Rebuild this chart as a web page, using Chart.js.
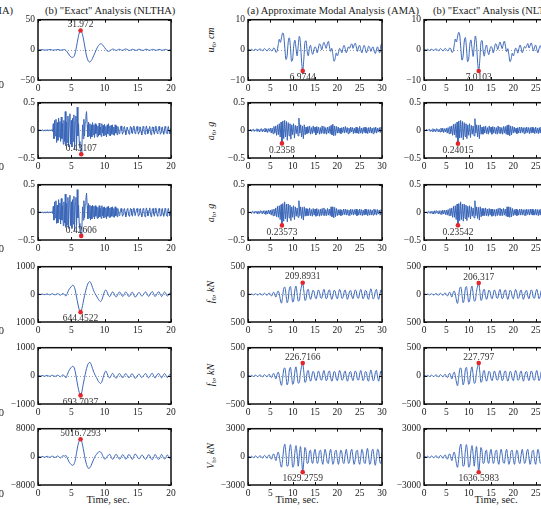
<!DOCTYPE html>
<html>
<head>
<meta charset="utf-8">
<script src="https://cdn.jsdelivr.net/npm/chart.js@4/dist/chart.umd.min.js"></script>
<style>
body { margin:0; width:541px; height:509px; overflow:hidden; background:#fff; position:relative;
       font-family:"Liberation Serif", serif; color:#222; }
canvas { position:absolute; }
.t { position:absolute; white-space:nowrap; font-size:10.5px; line-height:12px; }
.c { transform:translateX(-50%); }
.yl { position:absolute; white-space:nowrap; font-size:10px; line-height:12px;
      transform:translate(-50%,-50%) rotate(-90deg); }
.yl sub { font-size:7px; vertical-align:-2px; }
</style>
</head>
<body>
<div class="t" style="right:528px; top:5px">(a) Approximate Modal Analysis (AMA)</div>
<div class="t" style="left:45px; top:5px">(b) "Exact" Analysis (NLTHA)</div>
<div class="t" style="left:247px; top:5px">(a) Approximate Modal Analysis (AMA)</div>
<div class="t" style="left:433px; top:5px">(b) "Exact" Analysis (NLTHA)</div>

<div class="yl" style="left:212px; top:40px"><i>u</i><sub>6</sub>, <i>cm</i></div>
<div class="yl" style="left:212px; top:131px"><i>a</i><sub>6</sub>, <i>g</i></div>
<div class="yl" style="left:212px; top:213px"><i>a</i><sub>b</sub>, <i>g</i></div>
<div class="yl" style="left:212px; top:292px"><i>f</i><sub>6</sub>, <i>kN</i></div>
<div class="yl" style="left:212px; top:375px"><i>f</i><sub>b</sub>, <i>kN</i></div>
<div class="yl" style="left:212px; top:456px"><i>V</i><sub>b</sub>, <i>kN</i></div>

<div class="t c" style="left:108px; top:494px">Time, sec.</div>
<div class="t c" style="left:297px; top:494px">Time, sec.</div>
<div class="t c" style="left:496px; top:494px">Time, sec.</div>

<script>
// ---- data: left block (NLTHA, 0-20 s), middle (AMA, 0-30 s), right (NLTHA, 0-30 s)
const dtLeft = 0.2;
const dtLeftAcc = 0.1;
const dtWide = 0.25;
const dtWideAcc = 0.2;

const nl20Disp = [
  0, 0, 0.2, 0.3, 0.1, -0.2, -0.3, 0, 0.3, 0.5,
  0.2, -0.3, -0.4, 0, 0.4, 0.5, 0, -0.5, -0.3, 0.3,
  0.5, -1, -3.5, -7, -10, -12, -12.5, -11, -5, 6,
  18, 28, 31.972, 29, 20, 8, -5, -14, -19, -20,
  -18, -14, -9, -4, 1, 5.5, 8.5, 10, 9.5, 7,
  4, 1, -1.5, -2.5, -1.5, 0, 1.2, 1, -0.5, -1,
  0.2, 1, 0.5, -0.8, -0.5, 0.8, 1.5, 0.8, -0.5, -1,
  0, 1, 0.5, -0.5, -0.8, 0.3, 1, 0.5, -0.5, -1,
  0, 1, 0.8, -0.3, -0.8, 0, 0.8, 0.5, -0.5, -0.7,
  0.2, 0.9, 0.3, -0.6, -0.5, 0.4, 0.8, 0, -0.7, -0.2,
  0.5
];

const nl20Acc6 = [
  0, 0, 0.005, -0.005, 0.01, -0.005, 0, 0.01, -0.01, 0.005,
  0, -0.005, 0.01, -0.01, 0.005, 0.01, -0.01, 0, 0.01, -0.01,
  0.005, 0.01, -0.02, 0.12, -0.15, 0.18, -0.1, 0.2, -0.22, 0.14,
  -0.18, 0.22, -0.12, 0.16, -0.2, 0.24, -0.15, 0.12, -0.25, 0.18,
  -0.2, 0.34, -0.28, 0.15, -0.22, 0.26, -0.3, 0.2, 0.3, -0.25,
  0.18, -0.3, 0.22, -0.2, 0.28, -0.35, 0.15, 0.26, -0.25, 0.42,
  -0.1, 0.12, -0.2, -0.3, -0.38, -0.43107, -0.3, 0.1, -0.15, 0.2,
  -0.1, 0.15, 0.25, 0.34, 0.1, -0.12, 0.15, -0.1, 0.12, -0.15,
  0.1, -0.12, 0.14, -0.08, 0.1, -0.13, 0.12, -0.06, 0.1, -0.12,
  0.08, -0.1, 0.13, -0.08, 0.06, -0.11, 0.12, -0.05, 0.09, -0.1,
  0.11, -0.08, 0.07, -0.12, 0.1, -0.06, 0.12, -0.09, 0.08, -0.1,
  0.09, -0.07, 0.1, -0.08, 0.06, -0.09, 0.1, -0.05, 0.08, -0.08,
  0.07, 0.03, -0.06, -0.05, 0.04, 0.08, 0.0, -0.07, -0.03, 0.05,
  0.07, -0.01, -0.08, -0.02, 0.06, 0.06, -0.03, -0.07, 0.0, 0.07,
  0.05, -0.04, -0.06, 0.02, 0.08, 0.03, -0.06, -0.05, 0.04, 0.07,
  0.0, -0.07, -0.03, 0.06, 0.06, -0.02, -0.08, -0.01, 0.07, 0.05,
  -0.04, -0.07, 0.02, 0.08, 0.02, -0.06, -0.05, 0.04, 0.07, -0.01,
  -0.08, -0.02, 0.06, 0.06, -0.03, -0.07, 0.0, 0.08, 0.04, -0.05,
  -0.06, 0.03, 0.07, 0.01, -0.07, -0.04, 0.05, 0.06, -0.02, -0.07,
  -0.01, 0.07, 0.04, -0.05, -0.06, 0.03, 0.07, 0.0, -0.06, -0.03,
  0.04
];

const nl20AccB = [
  0, 0, 0.005, -0.005, 0.01, 0, -0.005, 0.01, -0.01, 0.005,
  0, -0.005, 0.01, -0.01, 0.005, 0.01, -0.01, 0, 0.01, -0.01,
  0.005, 0.01, -0.02, 0.11, -0.14, 0.19, -0.1, 0.21, -0.2, 0.13,
  -0.19, 0.23, -0.12, 0.17, -0.21, 0.25, -0.14, 0.12, -0.24, 0.19,
  -0.19, 0.33, -0.27, 0.16, -0.23, 0.27, -0.29, 0.2, 0.31, -0.24,
  0.19, -0.29, 0.23, -0.21, 0.29, -0.34, 0.16, 0.27, -0.24, 0.41,
  -0.1, 0.13, -0.2, -0.3, -0.37, -0.42606, -0.29, 0.1, -0.14, 0.21,
  -0.1, 0.14, 0.24, 0.35, 0.12, -0.12, 0.16, -0.1, 0.13, -0.14,
  0.11, -0.12, 0.13, -0.08, 0.11, -0.12, 0.12, -0.07, 0.1, -0.11,
  0.09, -0.1, 0.12, -0.08, 0.07, -0.11, 0.12, -0.06, 0.09, -0.1,
  0.1, -0.08, 0.08, -0.12, 0.1, -0.07, 0.11, -0.09, 0.08, -0.09,
  0.09, -0.07, 0.1, -0.08, 0.07, -0.09, 0.1, -0.06, 0.08, -0.08,
  0.07, 0.02, -0.06, -0.05, 0.04, 0.07, 0.01, -0.07, -0.04, 0.05,
  0.07, 0.0, -0.08, -0.03, 0.06, 0.07, -0.03, -0.07, -0.01, 0.07,
  0.06, -0.04, -0.07, 0.02, 0.08, 0.04, -0.06, -0.06, 0.04, 0.07,
  0.01, -0.07, -0.04, 0.06, 0.07, -0.02, -0.08, -0.02, 0.07, 0.06,
  -0.04, -0.08, 0.02, 0.08, 0.03, -0.06, -0.06, 0.04, 0.08, -0.01,
  -0.08, -0.03, 0.06, 0.07, -0.03, -0.07, 0.01, 0.08, 0.04, -0.05,
  -0.07, 0.03, 0.07, 0.02, -0.07, -0.05, 0.05, 0.07, -0.02, -0.07,
  -0.02, 0.07, 0.05, -0.05, -0.07, 0.03, 0.07, 0.01, -0.06, -0.04,
  0.04
];

const nl20Force6 = [
  0, 5, -5, 10, 0, -10, 5, 15, -5, -20,
  10, 20, -10, -15, 10, 25, -10, -30, 15, 30,
  -20, -60, 30, 150, 220, 280, 330, 300, 150, -100,
  -350, -550, -644.4522, -520, -280, -50, 150, 320, 430, 460,
  380, 250, 120, 20, -60, -150, -220, -260, -200, -50,
  100, 160, 80, -40, -80, 0, 90, 40, -60, -90,
  0, 80, 60, -50, -70, 20, 90, 30, -70, -60,
  40, 80, -20, -100, -60, 30, 70, 10, -60, -30,
  50, 90, 20, -70, -40, 60, 100, 10, -80, -20,
  70, 90, -10, -80, 0, 80, 50, -60, -40, 50,
  30
];

const nl20ForceB = [
  0, 5, -5, 12, 0, -12, 5, 15, -5, -20,
  12, 20, -10, -18, 10, 25, -10, -30, 15, 35,
  -20, -70, 40, 160, 240, 300, 340, 310, 150, -110,
  -380, -590, -693.7037, -560, -300, -60, 160, 340, 450, 480,
  400, 260, 130, 20, -60, -160, -230, -270, -210, -60,
  100, 170, 80, -40, -70, 10, 90, 30, -60, -80,
  10, 80, 50, -50, -60, 30, 80, 20, -60, -50,
  50, 70, -20, -90, -50, 30, 60, 0, -60, -20,
  50, 80, 10, -70, -30, 60, 90, 0, -80, -10,
  70, 80, -20, -70, 10, 80, 40, -60, -30, 50,
  20
];

const nl20Shear = [
  0, 50, -50, 100, 0, -100, 50, 150, -50, -150,
  100, 200, -100, -150, 100, 250, -100, -300, 150, 300,
  200, 400, -300, -1200, -1800, -2200, -2400, -2100, -1000, 1200,
  3200, 4600, 5016.7293, 4200, 2400, 300, -1500, -2700, -3300, -3100,
  -2400, -1500, -600, 200, 700, 1200, 1500, 1400, 900, 0,
  -600, -500, 100, 500, 700, 0, -700, -400, 500, 700,
  0, -600, -500, 400, 600, -100, -700, -300, 600, 500,
  -300, -700, 100, 800, 500, -200, -600, -100, 500, 300,
  -400, -700, -200, 600, 400, -500, -800, -100, 700, 200,
  -600, -700, 100, 700, 0, -600, -400, 500, 300, -400,
  -200
];

const amaU6 = [
  0, 0.1, -0.1, 0.2, 0, -0.2, 0.1, 0.2, -0.1, -0.2,
  0.2, 0.3, -0.1, -0.3, 0.2, 0.4, 0, -0.4, 0.1, 0.5,
  0.2, -0.3, -0.1, 0.6, 0.3, -0.8, -0.5, 1.5, 3.5, 2.5,
  4, 5.6, 4.8, 0.5, -3.2, -2.0, 2.5, 4.0, 1.0, -3.8,
  -3.0, 1.5, 3.2, 0.5, -2.0, 1.5, 4.5, 2.0, -4.0, -6.9744,
  -3.0, 2.5, 3.0, -0.5, -2.0, 0.5, 1.5, -0.5, -1.5, 0,
  1.0, 0.5, -1.0, 0.5, 2.0, 1.5, 0, 1.5, 2.5, 1.5,
  0.5, 2.0, 2.8, 1.0, -0.5, 0.5, -1.5, -3.8, -3.0, -1.0,
  -2.0, -1.0, 0.5, 0, -1.0, 0.5, 1.5, 0.5, -1.0, 0,
  1.0, 0.5, 1.5, 2.0, 0.5, 1.5, 2.2, 1.0, -0.5, 1.0,
  1.5, 0, -1.0, 0.5, 1.5, 0.5, -1.0, 0, 1.2, 0.8,
  -0.5, 0.5, 1.0, -0.5, -1.2, 0, 1.0, -0.3, -1.0, 1.5,
  2.0
];

const amaA6 = [
  0, 0.01, -0.01, 0.02, -0.02, 0.01, 0.02, -0.02, 0.01, -0.01,
  0.03, -0.02, 0.02, -0.03, 0.02, 0.03, -0.03, 0.02, -0.02, 0.04,
  -0.03, 0.03, -0.04, 0.03, -0.02, 0.04, -0.05, 0.04, -0.06, 0.07,
  -0.05, 0.08, -0.09, 0.1, -0.08, 0.12, -0.12, 0.15, -0.2358, 0.17,
  -0.15, 0.18, -0.12, 0.16, -0.18, 0.14, -0.1, 0.12, -0.16, 0.1,
  -0.08, 0.12, -0.14, 0.09, -0.06, 0.08, -0.1, 0.22, -0.05, 0.1,
  -0.12, 0.08, -0.15, 0.1, -0.08, 0.06, -0.06, 0.07, -0.05, 0.08,
  -0.07, 0.05, -0.06, 0.08, -0.04, 0.06, -0.08, 0.07, -0.05, 0.06,
  -0.07, 0.05, -0.06, 0.08, -0.05, 0.07, -0.06, 0.05, -0.07, 0.06,
  -0.05, 0.07, -0.06, 0.09, -0.08, 0.11, -0.1, 0.08, -0.09, 0.07,
  -0.05, 0.06, -0.05, 0.04, -0.06, 0.05, -0.04, 0.06, -0.05, 0.07,
  -0.04, 0.05, -0.06, 0.04, -0.05, 0.06, -0.03, 0.05, -0.06, 0.04,
  -0.05, 0.06, -0.05, 0.04, -0.06, 0.07, -0.05, 0.04, -0.06, 0.05,
  -0.04, 0.06, -0.05, 0.04, -0.06, 0.05, -0.04, 0.06, -0.05, 0.04,
  -0.06, 0.05, -0.04, 0.06, -0.05, 0.04, -0.03, 0.05, -0.04, 0.06,
  0.02
];

const amaAb = [
  0, 0.01, -0.01, 0.01, -0.02, 0.02, 0.01, -0.02, 0.02, -0.01,
  0.02, -0.03, 0.02, -0.02, 0.03, 0.02, -0.03, 0.03, -0.02, 0.03,
  -0.04, 0.03, -0.03, 0.04, -0.03, 0.04, -0.05, 0.05, -0.06, 0.06,
  -0.06, 0.08, -0.08, 0.11, -0.09, 0.12, -0.13, 0.14, -0.23573, 0.16,
  -0.16, 0.19, -0.12, 0.15, -0.17, 0.15, -0.1, 0.13, -0.15, 0.1,
  -0.09, 0.12, -0.13, 0.1, -0.07, 0.08, -0.09, 0.21, -0.06, 0.1,
  -0.11, 0.09, -0.14, 0.1, -0.07, 0.07, -0.06, 0.06, -0.06, 0.08,
  -0.06, 0.05, -0.07, 0.07, -0.05, 0.06, -0.07, 0.07, -0.06, 0.05,
  -0.07, 0.06, -0.06, 0.07, -0.05, 0.08, -0.06, 0.05, -0.06, 0.07,
  -0.05, 0.06, -0.06, 0.1, -0.08, 0.1, -0.1, 0.09, -0.08, 0.07,
  -0.06, 0.05, -0.05, 0.05, -0.06, 0.04, -0.05, 0.06, -0.04, 0.06,
  -0.05, 0.05, -0.05, 0.04, -0.06, 0.06, -0.04, 0.05, -0.05, 0.05,
  -0.04, 0.06, -0.06, 0.04, -0.05, 0.06, -0.05, 0.05, -0.06, 0.04,
  -0.05, 0.06, -0.04, 0.05, -0.06, 0.05, -0.05, 0.05, -0.05, 0.04,
  -0.05, 0.06, -0.04, 0.05, -0.05, 0.05, -0.03, 0.04, -0.05, 0.05,
  0.02
];

const amaF6 = [
  0, 5, -5, 8, 0, -10, 5, 12, -5, -12,
  8, 15, -5, -15, 10, 18, 0, -20, 10, 25,
  -5, -30, 15, 40, -10, -50, 20, 60, 10, -100,
  -160, -40, 110, 130, 0, -150, -90, 100, 140, 10,
  -140, -100, 80, 150, 20, -120, -110, 50, 150, 209.8931,
  60, -110, -80, 60, 90, -20, -90, -30, 70, 60,
  -40, -80, 0, 80, 40, -60, -70, 30, 90, 10,
  -80, -50, 60, 80, -20, -90, -30, 70, 60, -40,
  -80, 10, 90, 40, -70, -60, 40, 80, -10, -90,
  -30, 60, 70, -30, -80, 0, 80, 50, -60, -70,
  30, 90, 10, -80, -40, 70, 60, -50, -90, 20,
  100, 30, -80, -60, 50, 90, -20, -90, -10, 80,
  40
];

const amaFb = [
  0, 6, -6, 9, 0, -11, 6, 13, -6, -13,
  9, 16, -6, -16, 11, 20, 0, -22, 12, 28,
  -6, -32, 18, 45, -10, -55, 22, 65, 10, -110,
  -170, -45, 115, 140, 0, -160, -95, 105, 150, 10,
  -150, -105, 85, 160, 20, -130, -115, 55, 165, 226.7166,
  65, -115, -85, 65, 95, -20, -95, -30, 75, 65,
  -45, -85, 0, 85, 45, -65, -75, 30, 95, 10,
  -85, -55, 65, 85, -20, -95, -30, 75, 65, -45,
  -85, 10, 95, 45, -75, -65, 45, 85, -10, -95,
  -30, 65, 75, -30, -85, 0, 85, 55, -65, -75,
  30, 95, 10, -85, -45, 75, 65, -55, -95, 20,
  105, 30, -85, -65, 55, 95, -20, -95, -10, 85,
  45
];

const amaVb = [
  0, 40, -40, 60, 0, -80, 40, 100, -40, -100,
  60, 120, -40, -130, 80, 150, 0, -160, 80, 200,
  -40, -250, 120, 320, -80, -400, 150, 500, 100, -700,
  -1100, -300, 900, 1350, 300, -1000, -900, 600, 1300, 400,
  -1100, -900, 500, 1200, 300, -1000, 200, 1100, -200, -1629.2759,
  -400, 1000, 600, -700, -600, 500, 700, -400, -700, 300,
  800, 100, -700, -400, 600, 700, -300, -800, 100, 800,
  300, -600, -700, 300, 800, 0, -800, -400, 600, 700,
  -200, -800, -100, 700, 500, -500, -700, 200, 800, 100,
  -700, -500, 500, 800, -100, -800, -300, 600, 700, -300,
  -800, 0, 800, 400, -600, -700, 300, 900, 100, -800,
  -500, 600, 800, -200, -900, -100, 800, 600, -500, -700,
  400
];

const nlU6 = [
  0, 0.1, -0.1, 0.2, 0, -0.2, 0.1, 0.2, -0.1, -0.2,
  0.2, 0.3, -0.1, -0.3, 0.2, 0.4, 0, -0.4, 0.1, 0.5,
  0.2, -0.3, -0.1, 0.6, 0.3, -0.8, -0.6, 1.4, 3.6, 2.6,
  4.2, 5.8, 4.9, 0.4, -3.4, -2.1, 2.6, 4.1, 0.9, -3.9,
  -3.1, 1.6, 3.3, 0.4, -2.2, 1.4, 4.6, 2.1, -4.1, -7.0103,
  -3.2, 2.4, 3.1, -0.4, -2.1, 0.4, 1.6, -0.4, -1.6, 0.1,
  1.1, 0.6, -1.0, 0.4, 2.0, 1.6, 0.1, 1.4, 2.6, 1.6,
  0.4, 1.9, 2.9, 1.1, -0.6, 0.4, -1.6, -3.9, -3.1, -1.1,
  -2.0, -0.9, 0.6, 0.1, -1.1, 0.4, 1.6, 0.6, -1.0, 0.1,
  1.1, 0.6, 1.4, 2.1, 0.6, 1.4, 2.3, 1.1, -0.4, 0.9,
  1.6, 0.1, -1.0, 0.4, 1.4, 0.6, -1.1, 0.1, 1.3, 0.7,
  -0.6, 0.4, 1.1, -0.4, -1.3, 0.1, 1.1, -0.2, -1.1, 1.3,
  1.9
];

const nlA6 = [
  0, 0.01, -0.01, 0.02, -0.01, 0.01, 0.02, -0.02, 0.01, -0.02,
  0.03, -0.02, 0.02, -0.03, 0.03, 0.02, -0.03, 0.02, -0.03, 0.04,
  -0.03, 0.04, -0.04, 0.03, -0.03, 0.04, -0.05, 0.05, -0.06, 0.07,
  -0.06, 0.08, -0.09, 0.11, -0.08, 0.12, -0.13, 0.15, -0.24015, 0.17,
  -0.14, 0.18, -0.13, 0.16, -0.17, 0.14, -0.11, 0.12, -0.15, 0.1,
  -0.09, 0.12, -0.13, 0.09, -0.07, 0.08, -0.1, 0.21, -0.05, 0.1,
  -0.12, 0.09, -0.15, 0.1, -0.07, 0.06, -0.07, 0.07, -0.05, 0.08,
  -0.06, 0.05, -0.07, 0.08, -0.04, 0.06, -0.07, 0.07, -0.05, 0.06,
  -0.06, 0.05, -0.07, 0.08, -0.05, 0.06, -0.06, 0.05, -0.07, 0.07,
  -0.05, 0.07, -0.07, 0.09, -0.08, 0.1, -0.1, 0.08, -0.08, 0.07,
  -0.05, 0.06, -0.04, 0.04, -0.06, 0.05, -0.05, 0.06, -0.05, 0.06,
  -0.04, 0.05, -0.06, 0.05, -0.05, 0.06, -0.04, 0.05, -0.06, 0.05,
  -0.05, 0.06, -0.04, 0.04, -0.06, 0.06, -0.05, 0.04, -0.06, 0.05,
  -0.05, 0.06, -0.05, 0.04, -0.06, 0.05, -0.04, 0.06, -0.05, 0.05,
  -0.06, 0.05, -0.04, 0.06, -0.05, 0.04, -0.04, 0.05, -0.04, 0.06,
  0.02
];

const nlAb = [
  0, 0.01, -0.01, 0.01, -0.02, 0.02, 0.01, -0.02, 0.02, -0.02,
  0.02, -0.03, 0.03, -0.02, 0.03, 0.02, -0.03, 0.03, -0.03, 0.03,
  -0.04, 0.04, -0.03, 0.04, -0.04, 0.04, -0.05, 0.05, -0.06, 0.07,
  -0.06, 0.08, -0.09, 0.11, -0.09, 0.12, -0.13, 0.15, -0.23542, 0.16,
  -0.15, 0.19, -0.13, 0.15, -0.16, 0.15, -0.11, 0.13, -0.15, 0.11,
  -0.09, 0.12, -0.12, 0.1, -0.07, 0.08, -0.1, 0.21, -0.06, 0.1,
  -0.11, 0.09, -0.14, 0.1, -0.08, 0.07, -0.06, 0.07, -0.06, 0.08,
  -0.06, 0.06, -0.07, 0.07, -0.05, 0.06, -0.07, 0.06, -0.06, 0.05,
  -0.07, 0.06, -0.06, 0.07, -0.05, 0.08, -0.06, 0.06, -0.06, 0.07,
  -0.05, 0.06, -0.07, 0.1, -0.08, 0.1, -0.09, 0.09, -0.08, 0.07,
  -0.06, 0.05, -0.05, 0.06, -0.06, 0.04, -0.05, 0.06, -0.05, 0.06,
  -0.05, 0.05, -0.05, 0.05, -0.06, 0.06, -0.04, 0.05, -0.05, 0.06,
  -0.04, 0.06, -0.05, 0.04, -0.05, 0.06, -0.05, 0.05, -0.06, 0.05,
  -0.05, 0.06, -0.04, 0.05, -0.06, 0.05, -0.05, 0.06, -0.05, 0.04,
  -0.05, 0.06, -0.04, 0.05, -0.05, 0.05, -0.03, 0.05, -0.05, 0.05,
  0.02
];

const nlF6 = [
  0, 5, -6, 8, 1, -10, 4, 12, -6, -12,
  9, 15, -6, -15, 11, 18, -1, -20, 11, 25,
  -6, -30, 16, 40, -12, -50, 22, 60, 8, -100,
  -165, -40, 112, 130, -2, -150, -88, 102, 140, 8,
  -140, -98, 82, 150, 18, -122, -108, 52, 148, 206.317,
  58, -110, -78, 62, 90, -22, -90, -28, 72, 60,
  -42, -80, 2, 80, 38, -62, -70, 32, 90, 8,
  -80, -48, 62, 80, -22, -90, -28, 72, 58, -42,
  -80, 12, 90, 38, -72, -60, 42, 80, -12, -90,
  -28, 62, 70, -32, -80, 2, 80, 48, -62, -70,
  32, 90, 8, -80, -38, 72, 60, -52, -90, 22,
  100, 28, -80, -58, 52, 90, -22, -90, -8, 80,
  38
];

const nlFb = [
  0, 6, -7, 9, 1, -11, 5, 13, -7, -13,
  10, 16, -7, -16, 12, 20, -1, -22, 13, 28,
  -7, -32, 19, 45, -12, -55, 24, 65, 8, -110,
  -175, -45, 118, 140, -2, -160, -92, 108, 150, 8,
  -150, -102, 88, 160, 18, -132, -112, 58, 163, 227.797,
  63, -115, -83, 67, 95, -22, -95, -28, 77, 65,
  -47, -85, 2, 85, 43, -67, -75, 32, 95, 8,
  -85, -53, 67, 85, -22, -95, -28, 77, 63, -47,
  -85, 12, 95, 43, -77, -65, 47, 85, -12, -95,
  -28, 67, 75, -32, -85, 2, 85, 53, -67, -75,
  32, 95, 8, -85, -43, 77, 65, -57, -95, 22,
  105, 28, -85, -63, 57, 95, -22, -95, -8, 85,
  43
];

const nlVb = [
  0, 40, -45, 60, 5, -80, 35, 100, -45, -100,
  65, 120, -45, -130, 85, 150, -5, -160, 85, 200,
  -45, -250, 130, 320, -90, -400, 160, 500, 80, -700,
  -1120, -300, 920, 1360, 280, -1000, -880, 620, 1300, 380,
  -1100, -880, 520, 1200, 280, -1000, 220, 1100, -220, -1636.5983,
  -380, 1000, 580, -700, -580, 520, 700, -380, -700, 320,
  800, 80, -700, -380, 620, 700, -320, -800, 120, 800,
  280, -600, -680, 320, 800, -20, -800, -380, 620, 700,
  -220, -800, -80, 700, 480, -520, -700, 220, 800, 80,
  -700, -480, 520, 800, -120, -800, -280, 620, 700, -320,
  -800, 20, 800, 380, -620, -700, 320, 900, 80, -800,
  -480, 620, 800, -220, -900, -80, 800, 580, -520, -700,
  420
];

// axis limits and tick labels (bottom, zero, top), by row
const xMaxByCol = [20, 30, 30];
const yMaxLeft = [50, 0.5, 0.5, 1000, 1000, 8000];
const yMaxWide = [10, 0.5, 0.5, 500, 500, 3000];
const yTicksLeft = [["\u221250", "0", "50"], ["\u22120.5", "0", "0.5"], ["\u22120.5", "0", "0.5"],
                    ["1000", "0", "1000"], ["\u22121000", "0", "1000"], ["\u22128000", "0", "8000"]];
const yTicksWide = [["\u221210", "0", "10"], ["\u22120.5", "0", "0.5"], ["\u22120.5", "0", "0.5"],
                    ["500", "0", "500"], ["\u2212500", "0", "500"], ["\u22123000", "0", "3000"]];

// ---- layout
const colLeft = [38, 248, 424];
const colRight = [171, 382, 558];
const rowTop = [18, 101, 183, 265, 346, 427];
const rowBottom = [80, 158, 240, 322, 404, 485];
const ML = 40, MR = 14, MT = 7, MB = 16;
const FONT = '"Liberation Serif", serif';
const LINE = "#3a66b8";

const panels = [
  { col: 0, row: 0, data: nl20Disp, dt: dtLeft, smooth: true, lab: "above" },
  { col: 0, row: 1, data: nl20Acc6, dt: dtLeftAcc, smooth: false, lab: "above" },
  { col: 0, row: 2, data: nl20AccB, dt: dtLeftAcc, smooth: false, lab: "above" },
  { col: 0, row: 3, data: nl20Force6, dt: dtLeft, smooth: true, lab: "below" },
  { col: 0, row: 4, data: nl20ForceB, dt: dtLeft, smooth: true, lab: "below" },
  { col: 0, row: 5, data: nl20Shear, dt: dtLeft, smooth: true, lab: "above" },
  { col: 1, row: 0, data: amaU6, dt: dtWide, smooth: true, lab: "below" },
  { col: 1, row: 1, data: amaA6, dt: dtWideAcc, smooth: false, lab: "below" },
  { col: 1, row: 2, data: amaAb, dt: dtWideAcc, smooth: false, lab: "below" },
  { col: 1, row: 3, data: amaF6, dt: dtWide, smooth: true, lab: "above" },
  { col: 1, row: 4, data: amaFb, dt: dtWide, smooth: true, lab: "above" },
  { col: 1, row: 5, data: amaVb, dt: dtWide, smooth: true, lab: "below" },
  { col: 2, row: 0, data: nlU6, dt: dtWide, smooth: true, lab: "below" },
  { col: 2, row: 1, data: nlA6, dt: dtWideAcc, smooth: false, lab: "below" },
  { col: 2, row: 2, data: nlAb, dt: dtWideAcc, smooth: false, lab: "below" },
  { col: 2, row: 3, data: nlF6, dt: dtWide, smooth: true, lab: "above" },
  { col: 2, row: 4, data: nlFb, dt: dtWide, smooth: true, lab: "above" },
  { col: 2, row: 5, data: nlVb, dt: dtWide, smooth: true, lab: "below" }
];

function drawPanel(p) {
  const w = colRight[p.col] - colLeft[p.col];
  const h = rowBottom[p.row] - rowTop[p.row];
  const cv = document.createElement("canvas");
  cv.width = w + ML + MR;
  cv.height = h + MT + MB;
  cv.style.left = (colLeft[p.col] - ML) + "px";
  cv.style.top = (rowTop[p.row] - MT) + "px";
  document.body.appendChild(cv);

  const lim = p.col === 0 ? yMaxLeft[p.row] : yMaxWide[p.row];
  const labels = p.col === 0 ? yTicksLeft[p.row] : yTicksWide[p.row];
  const pts = p.data.map((v, i) => ({ x: +(i * p.dt).toFixed(3), y: v }));
  let k = 0;
  p.data.forEach((v, i) => { if (Math.abs(v) > Math.abs(p.data[k])) k = i; });

  const frame = {
    id: "frame",
    beforeDatasetsDraw(chart) {
      const { ctx, chartArea: a, scales: { y } } = chart;
      const y0 = Math.round(y.getPixelForValue(0)) + 0.5;
      ctx.save();
      ctx.strokeStyle = "#9aa3b5";
      ctx.lineWidth = 1;
      ctx.setLineDash([1, 2]);
      ctx.beginPath();
      ctx.moveTo(a.left, y0);
      ctx.lineTo(a.right, y0);
      ctx.stroke();
      ctx.restore();
    },
    afterDatasetsDraw(chart) {
      const { ctx, chartArea: a, scales: { x, y } } = chart;
      ctx.save();
      ctx.strokeStyle = "#111";
      ctx.lineWidth = 1;
      ctx.beginPath();
      x.ticks.forEach(t => {
        const px = Math.round(x.getPixelForValue(t.value)) + 0.5;
        ctx.moveTo(px, a.bottom); ctx.lineTo(px, a.bottom - 3);
        ctx.moveTo(px, a.top); ctx.lineTo(px, a.top + 3);
      });
      y.ticks.forEach(t => {
        const py = Math.round(y.getPixelForValue(t.value)) + 0.5;
        ctx.moveTo(a.left, py); ctx.lineTo(a.left + 3, py);
        ctx.moveTo(a.right, py); ctx.lineTo(a.right - 3, py);
      });
      ctx.stroke();
      ctx.lineWidth = 1.5;
      ctx.strokeRect(a.left, a.top, a.right - a.left, a.bottom - a.top);

      const el = chart.getDatasetMeta(0).data[0];
      ctx.fillStyle = "#333";
      ctx.font = "9.5px " + FONT;
      ctx.textAlign = "center";
      if (p.lab === "above") {
        ctx.textBaseline = "bottom";
        ctx.fillText(String(Math.abs(p.data[k])), el.x, el.y - 1);
      } else {
        ctx.textBaseline = "top";
        ctx.fillText(String(Math.abs(p.data[k])), el.x, el.y + 2);
      }
      ctx.restore();
    }
  };

  new Chart(cv, {
    type: "line",
    data: {
      datasets: [
        { data: [pts[k]], order: 0, showLine: false, pointRadius: 2.3,
          pointBackgroundColor: "#e3262b", pointBorderWidth: 0 },
        { data: pts, order: 1, borderColor: LINE, borderWidth: 1, pointRadius: 0,
          fill: false, cubicInterpolationMode: p.smooth ? "monotone" : "default", tension: 0 }
      ]
    },
    options: {
      responsive: false,
      animation: false,
      devicePixelRatio: 1,
      events: [],
      layout: { autoPadding: false, padding: { left: 0, top: MT, right: MR, bottom: 0 } },
      plugins: { legend: { display: false }, tooltip: { enabled: false } },
      scales: {
        x: {
          type: "linear", min: 0, max: xMaxByCol[p.col],
          grid: { display: false, drawTicks: false }, border: { display: false },
          ticks: { stepSize: 5, padding: 3, maxRotation: 0, autoSkip: false,
                   color: "#222", font: { family: FONT, size: 9.5 } },
          afterFit(s) { s.height = MB; }
        },
        y: {
          type: "linear", min: -lim, max: lim,
          grid: { display: false, drawTicks: false }, border: { display: false },
          afterBuildTicks(s) { s.ticks = [{ value: -lim }, { value: 0 }, { value: lim }]; },
          ticks: { padding: 3, color: "#222", font: { family: FONT, size: 9.5 },
                   callback: (v, i) => labels[i] },
          afterFit(s) { s.width = ML; }
        }
      }
    },
    plugins: [frame]
  });
}

panels.forEach(drawPanel);
</script>

<div class="t" style="right:537px; top:79px">20</div>
<div class="t" style="right:537px; top:161px">20</div>
<div class="t" style="right:537px; top:243px">20</div>
<div class="t" style="right:537px; top:325px">20</div>
<div class="t" style="right:537px; top:407px">20</div>
<div class="t" style="right:537px; top:488px">20</div>
</body>
</html>
